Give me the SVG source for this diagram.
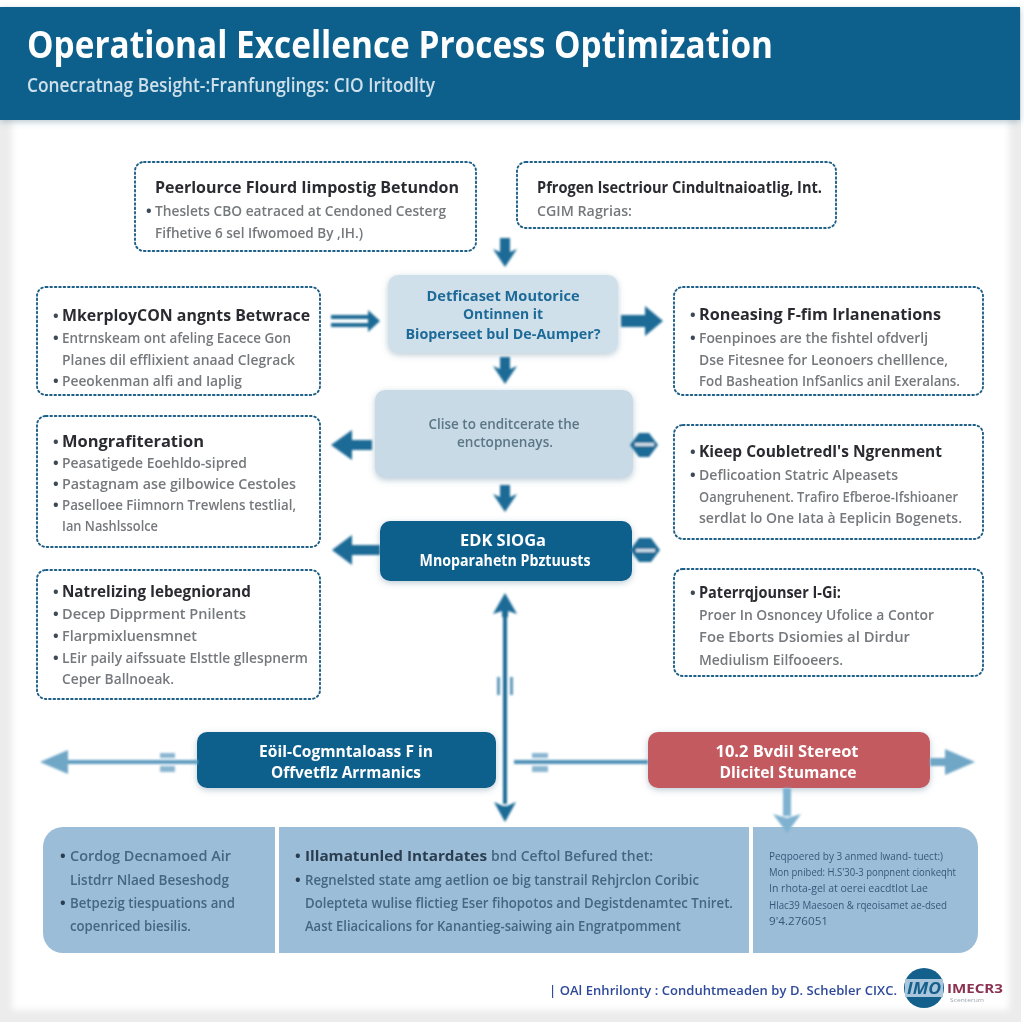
<svg xmlns="http://www.w3.org/2000/svg" width="1024" height="1024" viewBox="0 0 1024 1024">
<style>
text{font-family:"Open Sans","Liberation Sans",sans-serif;filter:url(#soft)}
#connectors{filter:url(#softc)}
.dot{fill:#fff;stroke:#1d5f86;stroke-width:1.9;stroke-dasharray:1.6 2.8;stroke-linecap:round}
.h{font-size:16px;font-weight:700;fill:#2c2c30}
.b{font-size:15px;font-weight:600;fill:#75787b}
.bu{font-size:15px;font-weight:700;fill:#3c4a55}
.w{font-size:16px;font-weight:700;fill:#fff;text-anchor:middle}
.p{font-size:15px;font-weight:600;fill:#456682}
.pb{font-size:15px;font-weight:700;fill:#2a3d50}
.s{font-size:10px;font-weight:400;fill:#35587a}
.a{fill:#1a6a96}
.l{fill:#6fa6c6}
</style>
<defs>
<filter id="soft" x="-5%" y="-30%" width="110%" height="160%"><feGaussianBlur stdDeviation="0.7"/></filter>
<filter id="softc" x="-2%" y="-2%" width="104%" height="104%"><feGaussianBlur stdDeviation="0.8"/></filter>
<filter id="sh" x="-10%" y="-15%" width="120%" height="130%"><feDropShadow dx="0" dy="2" stdDeviation="3" flood-color="#5a7f98" flood-opacity="0.4"/></filter>
<filter id="pg" x="-3%" y="-3%" width="106%" height="106%"><feGaussianBlur stdDeviation="3"/></filter>
</defs>
<rect width="1024" height="1024" fill="#fff"/>
<g id="page">
<rect x="0" y="8" width="1021" height="1014" fill="#ececec"/>
<rect x="12" y="118" width="997" height="892" fill="#fff" filter="url(#pg)"/>
</g>
<g id="header">
<rect x="0" y="7" width="1020" height="113" fill="#0f5f8c" filter="url(#sh)"/>
<text x="27" y="58" font-size="38" font-weight="700" fill="#fff" textLength="746" lengthAdjust="spacingAndGlyphs">Operational Excellence Process Optimization</text>
<text x="27" y="92" font-size="20" font-weight="600" fill="#cfe0ea" textLength="408" lengthAdjust="spacingAndGlyphs">Conecratnag Besight-:Franfunglings: CIO Iritodlty</text>
</g>
<g id="top-left">
<rect class="dot" x="135" y="162" width="341" height="89" rx="9"/>
<text class="h" x="155" y="193" textLength="304" lengthAdjust="spacingAndGlyphs">Peerlource Flourd Iimpostig Betundon</text>
<text class="bu" x="146" y="216">•</text>
<text class="b" x="155" y="216" textLength="291" lengthAdjust="spacingAndGlyphs">Theslets CBO eatraced at Cendoned Cesterg</text>
<text class="b" x="155" y="238" textLength="208" lengthAdjust="spacingAndGlyphs">Fifhetive 6 sel Ifwomoed By ,IH.)</text>
</g>
<g id="top-right">
<rect class="dot" x="517" y="162" width="319" height="66" rx="9"/>
<text class="h" x="537" y="193" textLength="285" lengthAdjust="spacingAndGlyphs">Pfrogen lsectriour Cindultnaioatlig, Int.</text>
<text class="b" x="537" y="216" textLength="95" lengthAdjust="spacingAndGlyphs">CGIM Ragrias:</text>
</g>
<g id="left-1">
<rect class="dot" x="37" y="287" width="283" height="108" rx="9"/>
<text class="bu" x="53" y="321">•</text><text class="h" x="62" y="321" textLength="248" lengthAdjust="spacingAndGlyphs">MkerployCON angnts Betwrace</text>
<text class="bu" x="53" y="343">•</text><text class="b" x="62" y="343" textLength="229" lengthAdjust="spacingAndGlyphs">Entrnskeam ont afeling Eacece Gon</text>
<text class="b" x="62" y="365" textLength="233" lengthAdjust="spacingAndGlyphs">Planes dil efflixient anaad Clegrack</text>
<text class="bu" x="53" y="386">•</text><text class="b" x="62" y="386" textLength="180" lengthAdjust="spacingAndGlyphs">Peeokenman alfi and Iaplig</text>
</g>
<g id="left-2">
<rect class="dot" x="37" y="416" width="283" height="131" rx="9"/>
<text class="bu" x="53" y="447">•</text><text class="h" x="62" y="447" textLength="142" lengthAdjust="spacingAndGlyphs">Mongrafiteration</text>
<text class="bu" x="53" y="468">•</text><text class="b" x="62" y="468" textLength="185" lengthAdjust="spacingAndGlyphs">Peasatigede Eoehldo-sipred</text>
<text class="bu" x="53" y="489">•</text><text class="b" x="62" y="489" textLength="234" lengthAdjust="spacingAndGlyphs">Pastagnam ase gilbowice Cestoles</text>
<text class="bu" x="53" y="510">•</text><text class="b" x="62" y="510" textLength="234" lengthAdjust="spacingAndGlyphs">Paselloee Fiimnorn Trewlens testlial,</text>
<text class="b" x="62" y="531" textLength="96" lengthAdjust="spacingAndGlyphs">Ian Nashlssolce</text>
</g>
<g id="left-3">
<rect class="dot" x="37" y="570" width="283" height="129" rx="9"/>
<text class="bu" x="53" y="597">•</text><text class="h" x="62" y="597" textLength="189" lengthAdjust="spacingAndGlyphs">Natrelizing Iebegniorand</text>
<text class="bu" x="53" y="619">•</text><text class="b" x="62" y="619" textLength="184" lengthAdjust="spacingAndGlyphs">Decep Dipprment Pnilents</text>
<text class="bu" x="53" y="641">•</text><text class="b" x="62" y="641" textLength="135" lengthAdjust="spacingAndGlyphs">Flarpmixluensmnet</text>
<text class="bu" x="53" y="663">•</text><text class="b" x="62" y="663" textLength="246" lengthAdjust="spacingAndGlyphs">LEir paily aifssuate Elsttle gllespnerm</text>
<text class="b" x="62" y="684" textLength="112" lengthAdjust="spacingAndGlyphs">Ceper Ballnoeak.</text>
</g>
<g id="right-1">
<rect class="dot" x="674" y="287" width="309" height="108" rx="9"/>
<text class="bu" x="690" y="320">•</text><text class="h" x="699" y="320" textLength="242" lengthAdjust="spacingAndGlyphs">Roneasing F-fim Irlanenations</text>
<text class="bu" x="690" y="343">•</text><text class="b" x="699" y="343" textLength="229" lengthAdjust="spacingAndGlyphs">Foenpinoes are the fishtel ofdverlj</text>
<text class="b" x="699" y="365" textLength="249" lengthAdjust="spacingAndGlyphs">Dse Fitesnee for Leonoers chelllence,</text>
<text class="b" x="699" y="386" textLength="261" lengthAdjust="spacingAndGlyphs">Fod Basheation InfSanlics anil Exeralans.</text>
</g>
<g id="right-2">
<rect class="dot" x="674" y="425" width="309" height="114" rx="9"/>
<text class="bu" x="690" y="457">•</text><text class="h" x="699" y="457" textLength="243" lengthAdjust="spacingAndGlyphs">Kieep Coubletredl's Ngrenment</text>
<text class="bu" x="690" y="480">•</text><text class="b" x="699" y="480" textLength="199" lengthAdjust="spacingAndGlyphs">Deflicoation Statric Alpeasets</text>
<text class="b" x="699" y="502" textLength="259" lengthAdjust="spacingAndGlyphs">Oangruhenent. Trafiro Efberoe-Ifshioaner</text>
<text class="b" x="699" y="523" textLength="263" lengthAdjust="spacingAndGlyphs">serdlat lo One Iata à Eeplicin Bogenets.</text>
</g>
<g id="right-3">
<rect class="dot" x="674" y="569" width="309" height="107" rx="9"/>
<text class="bu" x="690" y="598">•</text><text class="h" x="699" y="598" textLength="142" lengthAdjust="spacingAndGlyphs">Paterrqjounser I-Gi:</text>
<text class="b" x="699" y="620" textLength="235" lengthAdjust="spacingAndGlyphs">Proer In Osnoncey Ufolice a Contor</text>
<text class="b" x="699" y="642" textLength="211" lengthAdjust="spacingAndGlyphs">Foe Eborts Dsiomies al Dirdur</text>
<text class="b" x="699" y="665" textLength="144" lengthAdjust="spacingAndGlyphs">Mediulism Eilfooeers.</text>
</g>
<g id="center-1">
<rect x="388" y="275" width="230" height="78" rx="10" fill="#cfe0ea" filter="url(#sh)"/>
<text x="503" y="301" font-size="15" font-weight="700" fill="#1f6a98" text-anchor="middle" textLength="153" lengthAdjust="spacingAndGlyphs">Detficaset Moutorice</text>
<text x="503" y="319" font-size="15" font-weight="700" fill="#1f6a98" text-anchor="middle" textLength="80" lengthAdjust="spacingAndGlyphs">Ontinnen it</text>
<text x="503" y="339" font-size="15" font-weight="700" fill="#1f6a98" text-anchor="middle" textLength="195" lengthAdjust="spacingAndGlyphs">Bioperseet bul De-Aumper?</text>
</g>
<g id="center-2">
<rect x="375" y="390" width="258" height="88" rx="10" fill="#c8dae6" filter="url(#sh)"/>
<text x="504" y="429" font-size="13.5" font-weight="600" fill="#5b7686" text-anchor="middle" textLength="151" lengthAdjust="spacingAndGlyphs">Clise to enditcerate the</text>
<text x="505" y="447" font-size="13.5" font-weight="600" fill="#5b7686" text-anchor="middle" textLength="96" lengthAdjust="spacingAndGlyphs">enctopnenays.</text>
</g>
<g id="center-3">
<rect x="380" y="521" width="252" height="60" rx="10" fill="#0f5f8c" filter="url(#sh)"/>
<text class="w" x="503" y="546" textLength="86" lengthAdjust="spacingAndGlyphs">EDK SIOGa</text>
<text class="w" x="505" y="566" textLength="171" lengthAdjust="spacingAndGlyphs">Mnoparahetn Pbztuusts</text>
</g>
<g id="bar-left">
<rect x="197" y="732" width="299" height="56" rx="10" fill="#0f5f8c" filter="url(#sh)"/>
<text class="w" x="346" y="757" textLength="174" lengthAdjust="spacingAndGlyphs">Eöil-Cogmntaloass F in</text>
<text class="w" x="346" y="778" textLength="150" lengthAdjust="spacingAndGlyphs">Offvetflz Arrmanics</text>
</g>
<g id="bar-right">
<rect x="648" y="732" width="282" height="56" rx="10" fill="#c25a60" filter="url(#sh)"/>
<text class="w" x="787" y="757" textLength="143" lengthAdjust="spacingAndGlyphs">10.2 Bvdil Stereot</text>
<text class="w" x="788" y="778" textLength="137" lengthAdjust="spacingAndGlyphs">Dlicitel Stumance</text>
</g>
<g id="panel-1">
<path d="M275 827v126H63a20 20 0 0 1-20-20V847a20 20 0 0 1 20-20z" fill="#9cbdd7"/>
<text class="pb" x="60" y="861">•</text><text class="p" x="70" y="861" textLength="161" lengthAdjust="spacingAndGlyphs">Cordog Decnamoed Air</text>
<text class="p" x="70" y="885" textLength="159" lengthAdjust="spacingAndGlyphs">Listdrr Nlaed Beseshodg</text>
<text class="pb" x="60" y="908">•</text><text class="p" x="70" y="908" textLength="165" lengthAdjust="spacingAndGlyphs">Betpezig tiespuations and</text>
<text class="p" x="70" y="931" textLength="121" lengthAdjust="spacingAndGlyphs">copenriced biesilis.</text>
</g>
<g id="panel-2">
<rect x="279" y="827" width="470" height="126" fill="#9cbdd7"/>
<text class="pb" x="295" y="861">•</text><text class="pb" x="305" y="861" textLength="182" lengthAdjust="spacingAndGlyphs">Illamatunled Intardates</text>
<text class="p" x="491" y="861" textLength="162" lengthAdjust="spacingAndGlyphs">bnd Ceftol Befured thet:</text>
<text class="pb" x="295" y="885">•</text><text class="p" x="305" y="885" textLength="394" lengthAdjust="spacingAndGlyphs">Regnelsted state amg aetlion oe big tanstrail Rehjrclon Coribic</text>
<text class="p" x="305" y="908" textLength="428" lengthAdjust="spacingAndGlyphs">Dolepteta wulise flictieg Eser fihopotos and Degistdenamtec Tniret.</text>
<text class="p" x="305" y="931" textLength="376" lengthAdjust="spacingAndGlyphs">Aast Eliacicalions for Kanantieg-saiwing ain Engratpomment</text>
</g>
<g id="panel-3">
<path d="M753 827h205a20 20 0 0 1 20 20v86a20 20 0 0 1-20 20H753z" fill="#9cbdd7"/>
<text class="s" x="769" y="860" textLength="174" lengthAdjust="spacingAndGlyphs">Peqpoered by 3 anmed lwand- tuect:)</text>
<text class="s" x="769" y="876" textLength="187" lengthAdjust="spacingAndGlyphs">Mon pnibed: H.S'30-3 ponpnent cionkeqht</text>
<text class="s" x="769" y="892" textLength="159" lengthAdjust="spacingAndGlyphs">In rhota-gel at oerei eacdtlot Lae</text>
<text class="s" x="769" y="909" textLength="178" lengthAdjust="spacingAndGlyphs">Hlac39 Maesoen &amp; rqeoisamet ae-dsed</text>
<text class="s" x="769" y="925" textLength="59" lengthAdjust="spacingAndGlyphs">9'4.276051</text>
</g>
<g id="footer">
<text x="549" y="995" font-size="13" font-weight="600" fill="#2e4a9a" textLength="348" lengthAdjust="spacing">| OAl Enhrilonty : Conduhtmeaden by D. Schebler CIXC.</text>
<circle cx="924" cy="988" r="20" fill="#14608c"/>
<rect x="905" y="979" width="38" height="18" fill="#a9c6dc"/>
<text x="924" y="994" font-size="16" font-weight="700" font-style="italic" fill="#14608c" text-anchor="middle" textLength="34" lengthAdjust="spacingAndGlyphs">IMO</text>
<text x="947" y="993" font-size="12" font-weight="700" fill="#8a3050" textLength="56" lengthAdjust="spacingAndGlyphs">IMECR3</text>
<text x="950" y="1002" font-size="6" fill="#9aa5ad" textLength="34" lengthAdjust="spacingAndGlyphs">Scenterum</text>
</g>
<g id="connectors">
<path class="a" d="M500 238h10v14l7-3-12 18-12-18 7 3z"/>
<path class="a" d="M500 357h10v12l7-3-12 18-12-18 7 3z"/>
<path class="a" d="M500 485h10v12l7-3-12 18-12-18 7 3z"/>
<path class="a" d="M331 315h37v-5l12 11-12 11v-5h-37v-4h37v-4h-37z"/>
<path class="a" d="M621 315h24v-9l18 15-18 15v-9h-24z"/>
<path class="a" d="M372 440h-20v-10l-21 15 21 15v-10h20z"/>
<path class="a" d="M380 545h-28v-10l-20 15 20 15v-10h28z"/>
<path class="a" d="M630 445l9-12h10l9 12-9 12h-10z"/>
<rect x="635" y="443" width="19" height="3" fill="#cfe0ea"/>
<path class="a" d="M630 550l9-12h12l9 12-9 12h-12z"/>
<rect x="636" y="549" width="19" height="3" fill="#cfe0ea"/>
<path class="a" d="M505 593l12 21-9-3v6h-6v-6l-9 3z"/>
<rect x="503" y="612" width="4" height="192" fill="#1a6a96"/>
<path class="a" d="M494 802l9 4h4l9-4-11 20z"/>
<rect x="497" y="677" width="3" height="18" fill="#5f98bb"/>
<rect x="510" y="677" width="3" height="18" fill="#5f98bb"/>
<rect x="68" y="760" width="130" height="4" fill="#5f9cc0"/>
<path class="l" d="M40 762l28-12v24z"/>
<rect x="160" y="753" width="15" height="5" fill="#8ab6d0"/><rect x="160" y="766" width="15" height="6" fill="#8ab6d0"/>
<rect x="514" y="760" width="134" height="4" fill="#4f90b6"/>
<rect x="532" y="753" width="16" height="5" fill="#8ab6d0"/><rect x="532" y="766" width="16" height="6" fill="#8ab6d0"/>
<rect x="930" y="758" width="24" height="8" fill="#6fa6c6"/>
<path class="l" d="M975 762l-30-13v26z"/>
<rect x="783" y="788" width="8" height="28" fill="#7fb2d0"/>
<path d="M773 814l14 4 14-4-14 19z" fill="#7fb2d0"/>
</g>
</svg>
